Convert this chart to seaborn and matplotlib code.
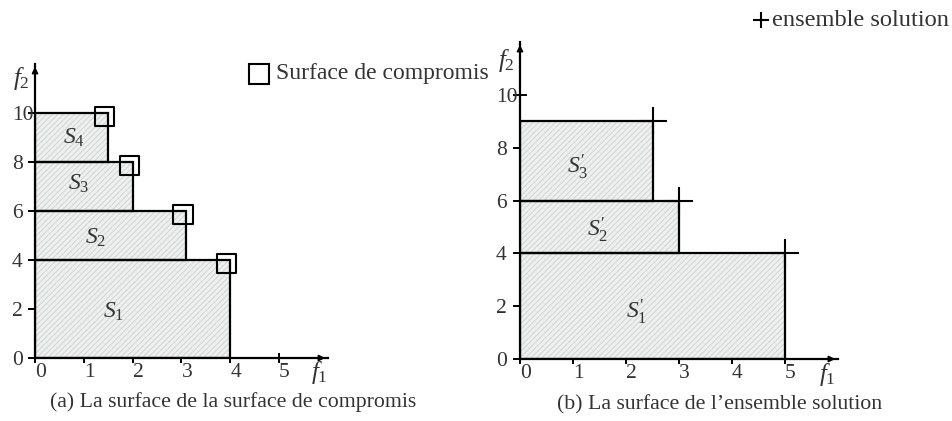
import matplotlib
matplotlib.use("Agg")
import matplotlib.pyplot as plt
from matplotlib.lines import Line2D
import seaborn as sns
import pandas as pd

# (a) compromise surfaces: each band spans [low, high] in f2 and [0, right] in f1
comp_names = ["$S_1$", "$S_2$", "$S_3$", "$S_4$"]
comp_right = [4.0, 3.1, 2.0, 1.5]
comp_low = [0, 4, 6, 8]
comp_high = [4, 6, 8, 10]

# (b) solution-set surfaces
sol_names = ["$S_1^{\\prime}$", "$S_2^{\\prime}$", "$S_3^{\\prime}$"]
sol_right = [5.0, 3.0, 2.5]
sol_low = [0, 4, 6]
sol_high = [4, 6, 9]

x_ticks = [0, 1, 2, 3, 4, 5]
y_ticks = [0, 2, 4, 6, 8, 10]

caption_a = "(a) La surface de la surface de compromis"
caption_b = "(b) La surface de l\u2019ensemble solution"
legend_comp = "Surface de compromis"
legend_sol = "ensemble solution"

sns.set_theme(style="white")
plt.rcParams["font.family"] = ["Liberation Serif", "DejaVu Serif"]
plt.rcParams["mathtext.fontset"] = "custom"
plt.rcParams["mathtext.rm"] = "Liberation Serif"
plt.rcParams["mathtext.it"] = "Liberation Serif:italic"
plt.rcParams["hatch.linewidth"] = 0.6

TXT = "#333333"
FILL = "#eef0f0"
HATCH = "#cdd0d0"

fig = plt.figure(figsize=(9.53, 4.21), dpi=100)
W, H = 953, 421
axA = fig.add_axes([35 / W, 63 / H, 293 / W, 294 / H])
axB = fig.add_axes([520 / W, 62 / H, 318 / W, 317 / H])


def draw_bands(ax, right, low, high):
    heights = [h - l for h, l in zip(high, low)]
    ax.barh(low, right, height=heights, left=0, align="edge",
            color=FILL, edgecolor=HATCH, hatch="//////", linewidth=0, zorder=1)
    ax.barh(low, right, height=heights, left=0, align="edge",
            fill=False, edgecolor="black", linewidth=1.6, zorder=2)


def style_axes(ax, ytick_dir, ytick_len, ypad):
    ax.set_xlim(0, 6)
    ax.set_ylim(0, 12)
    for s in ["top", "right"]:
        ax.spines[s].set_visible(False)
    for s in ["left", "bottom"]:
        ax.spines[s].set_color("black")
        ax.spines[s].set_linewidth(1.6)
        ax.spines[s].set_zorder(3)
    ax.set_xticks(x_ticks)
    ax.set_yticks(y_ticks)
    ax.set_xticklabels([str(v) for v in x_ticks])
    ax.set_yticklabels([str(v) for v in y_ticks])
    ax.tick_params(axis="x", direction="inout", length=7, width=1.4,
                   color="black", labelsize=15.5, labelcolor=TXT, pad=0,
                   bottom=True)
    ax.tick_params(axis="y", direction=ytick_dir, length=ytick_len, width=1.4,
                   color="black", labelsize=15.5, labelcolor=TXT, pad=ypad,
                   left=True)
    for lab in ax.get_xticklabels():
        lab.set_horizontalalignment("left")
    for lab in ax.get_yticklabels():
        lab.set_horizontalalignment("left")
    ax.set_facecolor("none")
    ax.grid(False)
    # axis arrows
    ax.annotate("", xy=(1.0, 0), xytext=(0.97, 0), xycoords="axes fraction",
                arrowprops=dict(arrowstyle="-|>", color="black", lw=1.2,
                                mutation_scale=9), annotation_clip=False)
    ax.annotate("", xy=(0, 1.0), xytext=(0, 0.97), xycoords="axes fraction",
                arrowprops=dict(arrowstyle="-|>", color="black", lw=1.2,
                                mutation_scale=9), annotation_clip=False)


# ---- panel (a)
draw_bands(axA, comp_right, comp_low, comp_high)
corners_a = pd.DataFrame({"f1": [r - 0.07 for r in comp_right],
                          "f2": [h - 0.15 for h in comp_high]})
sns.scatterplot(data=corners_a, x="f1", y="f2", ax=axA, marker="s", s=190,
                facecolor="none", edgecolor="black", linewidth=1.5,
                zorder=4, clip_on=False)
label_pos_a = [(1.6, 1.9), (1.25, 4.9), (0.9, 7.1), (0.8, 9.0)]
for name, (x, y) in zip(comp_names, label_pos_a):
    axA.text(x, y, name, fontsize=17, color=TXT, ha="center", va="center",
             zorder=5)
style_axes(axA, "out", 5, 11.5)
axA.text(-0.27, 11.4, "$f_2$", fontsize=18, color=TXT, ha="center",
         va="center", clip_on=False)
axA.text(5.82, -0.6, "$f_1$", fontsize=18, color=TXT, ha="center",
         va="center", clip_on=False)

# ---- panel (b)
draw_bands(axB, sol_right, sol_low, sol_high)
corners_b = pd.DataFrame({"f1": sol_right, "f2": sol_high})
sns.scatterplot(data=corners_b, x="f1", y="f2", ax=axB, marker="+", s=420,
                color="black", linewidth=1.5, zorder=4, clip_on=False)
label_pos_b = [(2.2, 1.8), (1.47, 4.9), (1.09, 7.3)]
for name, (x, y) in zip(sol_names, label_pos_b):
    axB.text(x, y, name, fontsize=17, color=TXT, ha="center", va="center",
             zorder=5)
style_axes(axB, "inout", 9.5, 12.6)
axB.text(-0.26, 11.3, "$f_2$", fontsize=18, color=TXT, ha="center",
         va="center", clip_on=False)
axB.text(5.8, -0.57, "$f_1$", fontsize=18, color=TXT, ha="center",
         va="center", clip_on=False)

for ax in (axA, axB):
    ax.set_xlabel("")
    ax.set_ylabel("")

# ---- captions
fig.text(50 / W, 1 - 402 / H, caption_a, fontsize=15.7, color=TXT,
         ha="left", va="center")
fig.text(557 / W, 1 - 405 / H, caption_b, fontsize=15.7, color=TXT,
         ha="left", va="center")

# ---- legend entries
fig.add_artist(Line2D([259 / W], [1 - 74 / H], marker="s", markersize=14,
                      markerfacecolor="none", markeredgecolor="black",
                      markeredgewidth=1.5, linestyle="none",
                      transform=fig.transFigure))
fig.text(276 / W, 1 - 73 / H, legend_comp, fontsize=17, color=TXT,
         ha="left", va="center")
fig.add_artist(Line2D([761 / W], [1 - 20 / H], marker="+", markersize=12,
                      markeredgecolor="black", markeredgewidth=1.5,
                      linestyle="none", transform=fig.transFigure))
fig.text(772 / W, 1 - 21 / H, legend_sol, fontsize=17.6, color=TXT,
         ha="left", va="center")

fig.savefig("out.png", dpi=100, facecolor="white")
